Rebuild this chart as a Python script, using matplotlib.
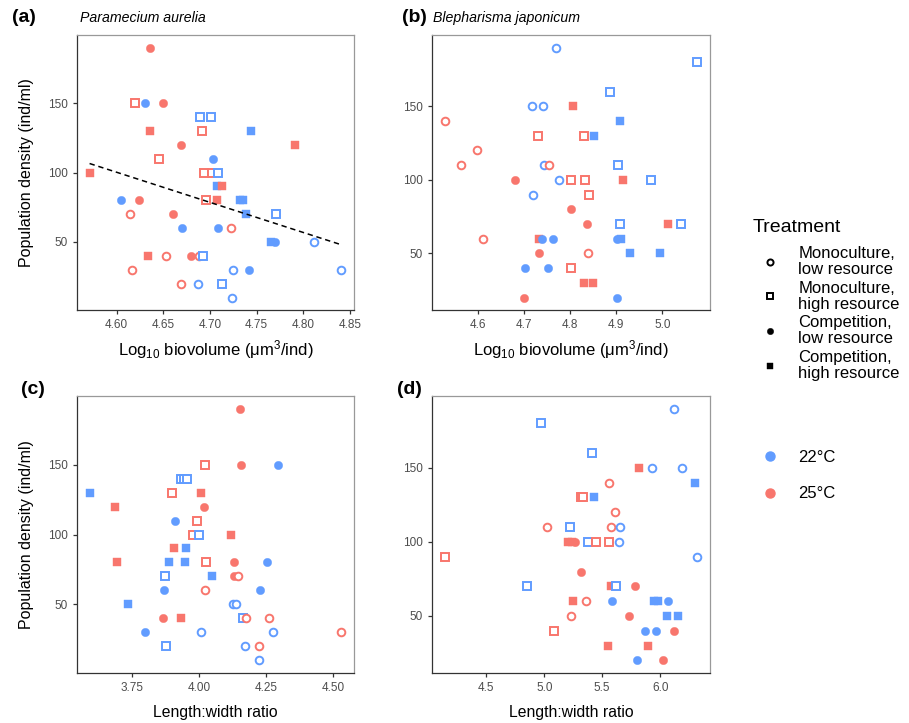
import matplotlib
matplotlib.use("Agg")
import matplotlib.pyplot as plt
from matplotlib.lines import Line2D
import numpy as np

plt.rcParams['font.family'] = ['Liberation Sans', 'DejaVu Sans']
plt.rcParams['mathtext.fontset'] = 'custom'
plt.rcParams['mathtext.rm'] = 'Liberation Sans'
plt.rcParams['mathtext.it'] = 'Liberation Sans:italic'

# treatment codes: ML = monoculture low, MH = monoculture high,
# CL = competition low, CH = competition high; temperature 22 / 25 degC

# (a) Paramecium aurelia, log10 biovolume
a_x = [4.636, 4.620, 4.630, 4.650, 4.689, 4.701, 4.636, 4.692, 4.744, 4.669,
       4.791, 4.645, 4.703, 4.571, 4.694, 4.702, 4.709, 4.708, 4.713, 4.605,
       4.624, 4.696, 4.708, 4.732, 4.736, 4.614, 4.660, 4.739, 4.771, 4.670,
       4.709, 4.723, 4.766, 4.770, 4.812, 4.634, 4.653, 4.680, 4.688, 4.693,
       4.617, 4.725, 4.742, 4.841, 4.669, 4.687, 4.713, 4.724]
a_y = [190, 150, 150, 150, 140, 140, 130, 130, 130, 120,
       120, 110, 110, 100, 100, 100, 100, 90, 90, 80,
       80, 80, 80, 80, 80, 70, 70, 70, 70, 60,
       60, 60, 50, 50, 50, 40, 40, 40, 40, 40,
       30, 30, 30, 30, 20, 20, 20, 10]
a_trt = ['CL', 'MH', 'CL', 'CL', 'MH', 'MH', 'CH', 'MH', 'CH', 'CL',
         'CH', 'MH', 'CL', 'CH', 'MH', 'MH', 'MH', 'CH', 'CH', 'CL',
         'CL', 'MH', 'CH', 'CH', 'CH', 'ML', 'CL', 'CH', 'MH', 'CL',
         'CL', 'ML', 'CH', 'CL', 'ML', 'CH', 'ML', 'CL', 'ML', 'MH',
         'ML', 'ML', 'CL', 'ML', 'ML', 'ML', 'MH', 'ML']
a_temp = [25, 25, 22, 25, 22, 22, 25, 25, 22, 25,
          25, 25, 22, 25, 25, 25, 22, 22, 25, 22,
          25, 25, 25, 22, 22, 25, 25, 22, 22, 22,
          22, 25, 22, 22, 22, 25, 25, 25, 25, 22,
          25, 22, 22, 22, 25, 22, 22, 22]
# fitted regression for (a): slope, intercept
a_fit = (-216.7, 1097.0)

# (b) Blepharisma japonicum, log10 biovolume
b_x = [4.770, 5.076, 4.886, 4.717, 4.741, 4.806, 4.528, 4.908, 4.730, 4.830,
       4.851, 4.599, 4.564, 4.743, 4.755, 4.904, 4.680, 4.775, 4.802, 4.833,
       4.914, 4.975, 4.719, 4.842, 4.802, 4.836, 4.909, 5.012, 5.040, 4.612,
       4.733, 4.740, 4.762, 4.901, 4.911, 4.733, 4.838, 4.930, 4.995, 4.703,
       4.752, 4.802, 4.830, 4.849, 4.701, 4.901]
b_y = [190, 180, 160, 150, 150, 150, 140, 140, 130, 130,
       130, 120, 110, 110, 110, 110, 100, 100, 100, 100,
       100, 100, 90, 90, 80, 70, 70, 70, 70, 60,
       60, 60, 60, 60, 60, 50, 50, 50, 50, 40,
       40, 40, 30, 30, 20, 20]
b_trt = ['ML', 'MH', 'MH', 'ML', 'ML', 'CH', 'ML', 'CH', 'MH', 'MH',
         'CH', 'ML', 'ML', 'ML', 'ML', 'MH', 'CL', 'ML', 'MH', 'MH',
         'CH', 'MH', 'ML', 'MH', 'CL', 'CL', 'MH', 'CH', 'MH', 'ML',
         'CH', 'CL', 'CL', 'CL', 'CH', 'CL', 'ML', 'CH', 'CH', 'CL',
         'CL', 'MH', 'CH', 'CH', 'CL', 'CL']
b_temp = [22, 22, 22, 22, 22, 25, 25, 22, 25, 25,
          22, 25, 25, 22, 25, 22, 25, 22, 25, 25,
          25, 22, 22, 25, 25, 25, 22, 25, 22, 25,
          25, 22, 22, 22, 22, 25, 25, 22, 22, 22,
          22, 25, 25, 25, 25, 22]

# (c) Paramecium aurelia, length:width ratio
c_x = [4.152, 4.021, 4.156, 4.295, 3.933, 3.943, 3.953, 3.591, 3.900, 4.005,
       3.684, 4.016, 3.911, 3.992, 3.978, 4.000, 4.120, 3.907, 3.951, 3.692,
       3.888, 3.945, 4.025, 4.128, 4.252, 3.873, 4.046, 4.130, 4.144, 3.869,
       4.021, 4.227, 3.733, 4.125, 4.138, 3.863, 3.930, 4.164, 4.175, 4.259,
       3.798, 4.006, 4.275, 4.530, 3.877, 4.170, 4.222, 4.221]
c_y = [190, 150, 150, 150, 140, 140, 140, 130, 130, 130,
       120, 120, 110, 110, 100, 100, 100, 90, 90, 80,
       80, 80, 80, 80, 80, 70, 70, 70, 70, 60,
       60, 60, 50, 50, 50, 40, 40, 40, 40, 40,
       30, 30, 30, 30, 20, 20, 20, 10]
c_trt = ['CL', 'MH', 'CL', 'CL', 'MH', 'MH', 'MH', 'CH', 'MH', 'CH',
         'CH', 'CL', 'CL', 'MH', 'MH', 'MH', 'CH', 'CH', 'CH', 'CH',
         'CH', 'CH', 'MH', 'CL', 'CL', 'MH', 'CH', 'CL', 'ML', 'CL',
         'ML', 'CL', 'CH', 'ML', 'ML', 'CL', 'CH', 'MH', 'ML', 'ML',
         'CL', 'ML', 'ML', 'ML', 'MH', 'ML', 'ML', 'ML']
c_temp = [25, 25, 25, 22, 22, 22, 22, 22, 25, 25,
          25, 25, 22, 25, 25, 22, 25, 25, 22, 25,
          22, 22, 25, 25, 22, 22, 22, 25, 25, 22,
          25, 22, 22, 22, 22, 25, 25, 22, 25, 25,
          22, 22, 22, 25, 22, 22, 25, 22]

# (d) Blepharisma japonicum, length:width ratio
d_x = [6.120, 4.970, 5.411, 5.814, 5.926, 6.192, 6.298, 5.558, 5.321, 5.336,
       5.425, 5.607, 5.027, 5.226, 5.572, 5.653, 5.206, 5.235, 5.269, 5.379,
       5.445, 5.560, 5.647, 4.140, 6.321, 5.318, 4.854, 5.575, 5.615, 5.782,
       5.252, 5.359, 5.586, 5.950, 5.984, 6.071, 5.232, 5.730, 6.056, 6.151,
       5.085, 5.869, 5.964, 6.117, 5.552, 5.895, 5.797, 6.027]
d_y = [190, 180, 160, 150, 150, 150, 140, 140, 130, 130,
       130, 120, 110, 110, 110, 110, 100, 100, 100, 100,
       100, 100, 100, 90, 90, 80, 70, 70, 70, 70,
       60, 60, 60, 60, 60, 60, 50, 50, 50, 50,
       40, 40, 40, 40, 30, 30, 20, 20]
d_trt = ['ML', 'MH', 'MH', 'CH', 'ML', 'ML', 'CH', 'ML', 'MH', 'MH',
         'CH', 'ML', 'ML', 'MH', 'ML', 'ML', 'CH', 'CH', 'CL', 'MH',
         'MH', 'MH', 'ML', 'MH', 'ML', 'CL', 'MH', 'CH', 'MH', 'CL',
         'CH', 'ML', 'CL', 'CH', 'CH', 'CL', 'ML', 'CL', 'CH', 'CH',
         'MH', 'CL', 'CL', 'CL', 'CH', 'CH', 'CL', 'CL']
d_temp = [22, 22, 22, 25, 22, 22, 22, 25, 25, 25,
          22, 25, 25, 22, 25, 22, 25, 25, 25, 22,
          25, 25, 22, 25, 22, 25, 22, 25, 22, 25,
          25, 25, 22, 22, 22, 22, 25, 25, 22, 22,
          25, 22, 22, 25, 25, 25, 22, 25]

TEMP_COLORS = {22: '#619CFF', 25: '#F8766D'}
TRT_STYLE = {'ML': ('o', False), 'MH': ('s', False),
             'CL': ('o', True), 'CH': ('s', True)}
TRT_LABELS = {'ML': 'Monoculture,\nlow resource', 'MH': 'Monoculture,\nhigh resource',
              'CL': 'Competition,\nlow resource', 'CH': 'Competition,\nhigh resource'}

W, H = 909, 723


def fx(px):
    return px / W


def fy(py):
    return 1 - py / H


def draw_panel(ax, xs, ys, trts, temps):
    for x, y, t, temp in zip(xs, ys, trts, temps):
        marker, filled = TRT_STYLE[t]
        col = TEMP_COLORS[temp]
        if filled:
            ms = 6.0 if marker == 'o' else 5.8
            ax.plot(x, y, marker=marker, ms=ms, mfc=col, mec=col, mew=0.3, ls='none')
        else:
            ax.plot(x, y, marker=marker, ms=5.5, mfc='white', mec=col, mew=1.4, ls='none')
    ax.margins(0.05)
    ax.set_yticks([50, 100, 150])
    ax.tick_params(length=3, width=0.9, colors='#333333', labelcolor='#4D4D4D', labelsize=8.5)
    for s in ['left', 'bottom']:
        ax.spines[s].set_color('#333333')
    for s in ['top', 'right']:
        ax.spines[s].set_color('#999999')
    for s in ax.spines.values():
        s.set_linewidth(0.9)


fig = plt.figure(figsize=(9.09, 7.23), dpi=100)
ax_a = fig.add_axes([fx(77), fy(310), 277 / W, 275 / H])
ax_b = fig.add_axes([fx(432), fy(310), 278 / W, 275 / H])
ax_c = fig.add_axes([fx(77), fy(673), 277 / W, 277 / H])
ax_d = fig.add_axes([fx(432), fy(673), 278 / W, 277 / H])

draw_panel(ax_a, a_x, a_y, a_trt, a_temp)
draw_panel(ax_b, b_x, b_y, b_trt, b_temp)
draw_panel(ax_c, c_x, c_y, c_trt, c_temp)
draw_panel(ax_d, d_x, d_y, d_trt, d_temp)

# regression line in (a)
line_x = np.array([min(a_x), max(a_x)])
ax_a.plot(line_x, a_fit[0] * line_x + a_fit[1], color='black', lw=1.1,
          ls=(0, (3.5, 2.5)), zorder=5)

ax_a.set_xticks([4.60, 4.65, 4.70, 4.75, 4.80, 4.85])
ax_a.set_xticklabels(['4.60', '4.65', '4.70', '4.75', '4.80', '4.85'])
ax_b.set_xticks([4.6, 4.7, 4.8, 4.9, 5.0])
ax_b.set_xticklabels(['4.6', '4.7', '4.8', '4.9', '5.0'])
ax_c.set_xticks([3.75, 4.00, 4.25, 4.50])
ax_c.set_xticklabels(['3.75', '4.00', '4.25', '4.50'])
ax_d.set_xticks([4.5, 5.0, 5.5, 6.0])
ax_d.set_xticklabels(['4.5', '5.0', '5.5', '6.0'])

bio_label = 'Log$_{10}$ biovolume (\u03bcm$^{3}$/ind)'
ax_a.set_xlabel(bio_label, fontsize=12, labelpad=5)
ax_b.set_xlabel(bio_label, fontsize=12, labelpad=5)
ax_c.set_xlabel('Length:width ratio', fontsize=11.3, labelpad=8)
ax_d.set_xlabel('Length:width ratio', fontsize=11.3, labelpad=8)
ax_a.set_ylabel('Population density (ind/ml)', fontsize=11.5, labelpad=10)
ax_c.set_ylabel('Population density (ind/ml)', fontsize=11.5, labelpad=10)

# panel tags and titles
fig.text(fx(12), fy(18), '(a)', fontsize=14, fontweight='bold', va='center')
fig.text(fx(80), fy(18), 'Paramecium aurelia', fontsize=10.2, style='italic', va='center')
fig.text(fx(402), fy(18), '(b)', fontsize=14, fontweight='bold', va='center')
fig.text(fx(433), fy(18), 'Blepharisma japonicum', fontsize=10.2, style='italic', va='center')
fig.text(fx(21), fy(389), '(c)', fontsize=14, fontweight='bold', va='center')
fig.text(fx(397), fy(389), '(d)', fontsize=14, fontweight='bold', va='center')

# legends
fig.text(fx(753), fy(227), 'Treatment', fontsize=14, va='center')
shape_handles = []
for t in ['ML', 'MH', 'CL', 'CH']:
    marker, filled = TRT_STYLE[t]
    shape_handles.append(Line2D([], [], marker=marker, ls='none',
                                ms=4.6 if filled else 4.4,
                                mfc='black' if filled else 'white', mec='black',
                                mew=0.3 if filled else 1.4, label=TRT_LABELS[t]))
leg1 = fig.legend(handles=shape_handles, loc='upper left',
                  bbox_to_anchor=(fx(762), fy(246)), frameon=False,
                  fontsize=12, labelspacing=0.22, borderpad=0, borderaxespad=0,
                  handletextpad=1.18, handlelength=1.0)
for txt in leg1.get_texts():
    txt.set_linespacing(1.08)
    txt.set_multialignment('left')

temp_handles = [Line2D([], [], marker='o', ls='none', ms=6.5, mfc=TEMP_COLORS[k],
                       mec=TEMP_COLORS[k], label=f'{k}\u00b0C') for k in [22, 25]]
fig.legend(handles=temp_handles, loc='upper left', bbox_to_anchor=(fx(762), fy(450)),
           frameon=False, fontsize=12, labelspacing=1.28, borderpad=0, borderaxespad=0,
           handletextpad=1.18, handlelength=1.0)

fig.savefig('out.png', dpi=100)
